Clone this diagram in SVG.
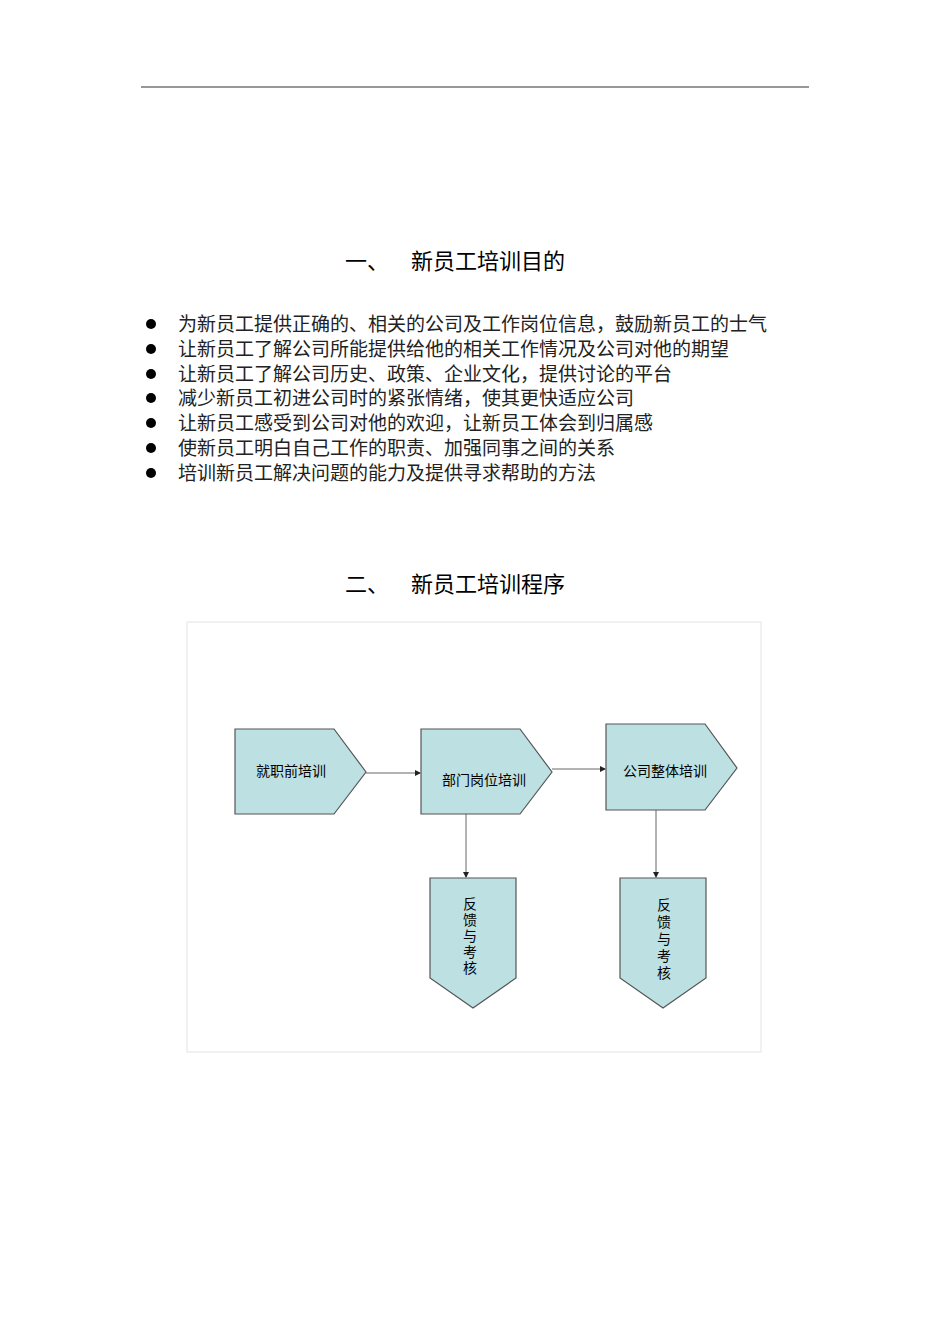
<svg xmlns="http://www.w3.org/2000/svg" width="950" height="1344" viewBox="0 0 950 1344">
<style>
.t{font-family:"Noto Sans CJK SC",sans-serif;fill:#000}
.h{font-size:22px}
.b{font-size:19px;fill:#222}
.n{fill:#bde0e3;stroke:#555;stroke-width:1.2}
.l{font-size:14px;font-family:"Noto Sans CJK SC",sans-serif}
.c{stroke:#666;stroke-width:1;fill:none;marker-end:url(#a)}
</style>
<defs><marker id="a" markerWidth="6" markerHeight="6" refX="5" refY="3" orient="auto"><path d="M0,0 L6,3 L0,6z" fill="#222"/></marker></defs>
<rect width="950" height="1344" fill="#fff"/>
<line x1="141" y1="87" x2="809" y2="87" stroke="#333" stroke-width="1.2"/>
<text class="t h" x="345" y="269">一、</text><text class="t h" x="411" y="269">新员工培训目的</text>
<g class="t b">
<text x="178" y="331">为新员工提供正确的、相关的公司及工作岗位信息，鼓励新员工的士气</text>
<text x="178" y="356">让新员工了解公司所能提供给他的相关工作情况及公司对他的期望</text>
<text x="178" y="381">让新员工了解公司历史、政策、企业文化，提供讨论的平台</text>
<text x="178" y="405">减少新员工初进公司时的紧张情绪，使其更快适应公司</text>
<text x="178" y="430">让新员工感受到公司对他的欢迎，让新员工体会到归属感</text>
<text x="178" y="455">使新员工明白自己工作的职责、加强同事之间的关系</text>
<text x="178" y="480">培训新员工解决问题的能力及提供寻求帮助的方法</text>
</g>
<g fill="#000"><circle cx="151" cy="324" r="5"/><circle cx="151" cy="349" r="5"/><circle cx="151" cy="374" r="5"/><circle cx="151" cy="398" r="5"/><circle cx="151" cy="423" r="5"/><circle cx="151" cy="448" r="5"/><circle cx="151" cy="473" r="5"/></g>
<text class="t h" x="345" y="592">二、</text><text class="t h" x="411" y="592">新员工培训程序</text>
<rect x="187" y="622" width="574" height="430" fill="none" stroke="#e4e4e4"/>
<g id="connectors">
<line class="c" x1="366" y1="773" x2="420" y2="773"/>
<line class="c" x1="552" y1="769" x2="605" y2="769"/>
<line class="c" x1="466" y1="814" x2="466" y2="877"/>
<line class="c" x1="656" y1="810" x2="656" y2="877"/>
</g>
<g id="n1"><path class="n" d="M235,729 H334 L366,772 L334,814 H235Z"/><text class="l" x="291" y="776" text-anchor="middle">就职前培训</text></g>
<g id="n2"><path class="n" d="M421,729 H520 L552,772 L520,814 H421Z"/><text class="l" x="484" y="785" text-anchor="middle">部门岗位培训</text></g>
<g id="n3"><path class="n" d="M606,724 H705 L737,768 L705,810 H606Z"/><text class="l" x="665" y="776" text-anchor="middle" font-size="16">公司整体培训</text></g>
<g id="f1"><path class="n" d="M430,878 H516 V978 L473,1008 L430,978Z"/><text class="l" text-anchor="middle" font-size="13"><tspan x="470" y="909">反</tspan><tspan x="470" y="925">馈</tspan><tspan x="470" y="941">与</tspan><tspan x="470" y="957">考</tspan><tspan x="470" y="973">核</tspan></text></g>
<g id="f2"><path class="n" d="M620,878 H706 V978 L663,1008 L620,978Z"/><text class="l" text-anchor="middle" font-size="14"><tspan x="664" y="910">反</tspan><tspan x="664" y="927">馈</tspan><tspan x="664" y="944">与</tspan><tspan x="664" y="961">考</tspan><tspan x="664" y="978">核</tspan></text></g>
</svg>
